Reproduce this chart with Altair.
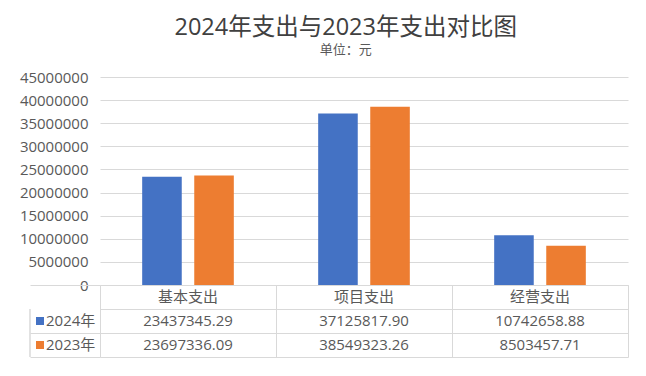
import altair as alt
import pandas as pd

# ---- data ----
categories = ["基本支出", "项目支出", "经营支出"]
series_names = ["2024年", "2023年"]
values_2024 = [23437345.29, 37125817.90, 10742658.88]
values_2023 = [23697336.09, 38549323.26, 8503457.71]
y_ticks = [0, 5000000, 10000000, 15000000, 20000000, 25000000,
           30000000, 35000000, 40000000, 45000000]
series_colors = ["#4472C4", "#ED7D31"]

F = "Open Sans, Noto Sans CJK SC"
GRID = "#d9d9d9"
TXT = "#595959"

rows = []
for s, vals in zip(series_names, [values_2024, values_2023]):
    for c, v in zip(categories, vals):
        rows.append({"cat": c, "series": s, "value": v})
df = pd.DataFrame(rows)

# table data
trows = []
for c in categories:
    trows.append({"cat": c, "row": "h", "text": c, "kind": "head"})
for s, vals in zip(series_names, [values_2024, values_2023]):
    for c, v in zip(categories, vals):
        trows.append({"cat": c, "row": s, "text": f"{v:.2f}", "kind": "val"})
tdf = pd.DataFrame(trows)
leg = pd.DataFrame({"row": series_names, "series": series_names})

row_domain = ["h"] + series_names

bars = alt.Chart(df).mark_bar().encode(
    x=alt.X("cat:N", scale=alt.Scale(domain=categories, paddingInner=0, paddingOuter=0), axis=None),
    xOffset=alt.XOffset("series:N", scale=alt.Scale(domain=series_names, paddingInner=0.24, paddingOuter=0.81)),
    y=alt.Y("value:Q",
            scale=alt.Scale(domain=[0, 45000000], nice=False),
            axis=alt.Axis(values=y_ticks, format="d", grid=True, gridColor=GRID,
                          domain=False, ticks=False, tickSize=0, labelPadding=12,
                          labelFontSize=15, labelColor=TXT, labelFont=F, title=None)),
    color=alt.Color("series:N", scale=alt.Scale(domain=series_names, range=series_colors), legend=None),
).properties(width=528, height=208)

xs = alt.X("cat:N", scale=alt.Scale(domain=categories, paddingInner=0, paddingOuter=0),
           axis=alt.Axis(grid=True, tickBand="extent", labels=False, ticks=False,
                         domain=False, title=None, gridColor=GRID))
ys = alt.Y("row:N", scale=alt.Scale(domain=row_domain, paddingInner=0, paddingOuter=0),
           axis=alt.Axis(grid=True, tickBand="extent", labels=False, ticks=True, tickSize=70,
                         tickColor={"condition": {"test": "datum.value === 'h'", "value": "transparent"},
                                    "value": GRID},
                         domain=False, title=None, gridColor=GRID))

table_text = alt.Chart(tdf).mark_text(fontSize=15, color=TXT, font=F).encode(
    x=xs, y=ys, text="text:N")

squares = alt.Chart(leg).mark_square(size=64, opacity=1).encode(
    x=alt.value(-60),
    y=alt.Y("row:N", scale=alt.Scale(domain=row_domain)),
    color=alt.Color("series:N", scale=alt.Scale(domain=series_names, range=series_colors), legend=None),
)

leg_text = alt.Chart(leg).mark_text(fontSize=15, color=TXT, font=F, align="left").encode(
    x=alt.value(-54),
    y=alt.Y("row:N", scale=alt.Scale(domain=row_domain)),
    text="row:N",
)

left_rule = alt.Chart(leg).mark_rule(color=GRID).encode(
    x=alt.value(-70), y=alt.value(24), y2=alt.value(72))

table = alt.layer(table_text, squares, leg_text, left_rule).properties(width=528, height=72)

chart = alt.vconcat(bars, table, spacing=0, bounds="flush").properties(
    title=alt.TitleParams(text="2024年支出与2023年支出对比图", subtitle="单位：元",
                          fontSize=23.5, subtitleFontSize=13, color="#404040",
                          subtitleColor=TXT, font=F, subtitleFont=F,
                          fontWeight="normal", anchor="middle", offset=13, subtitlePadding=5,
                          dx=22),
    padding={"left": 19, "top": 15, "right": 5, "bottom": 5},
    background="white",
).configure_view(stroke=None)

chart.save("out.html", embed_options={"renderer": "svg", "actions": False})
